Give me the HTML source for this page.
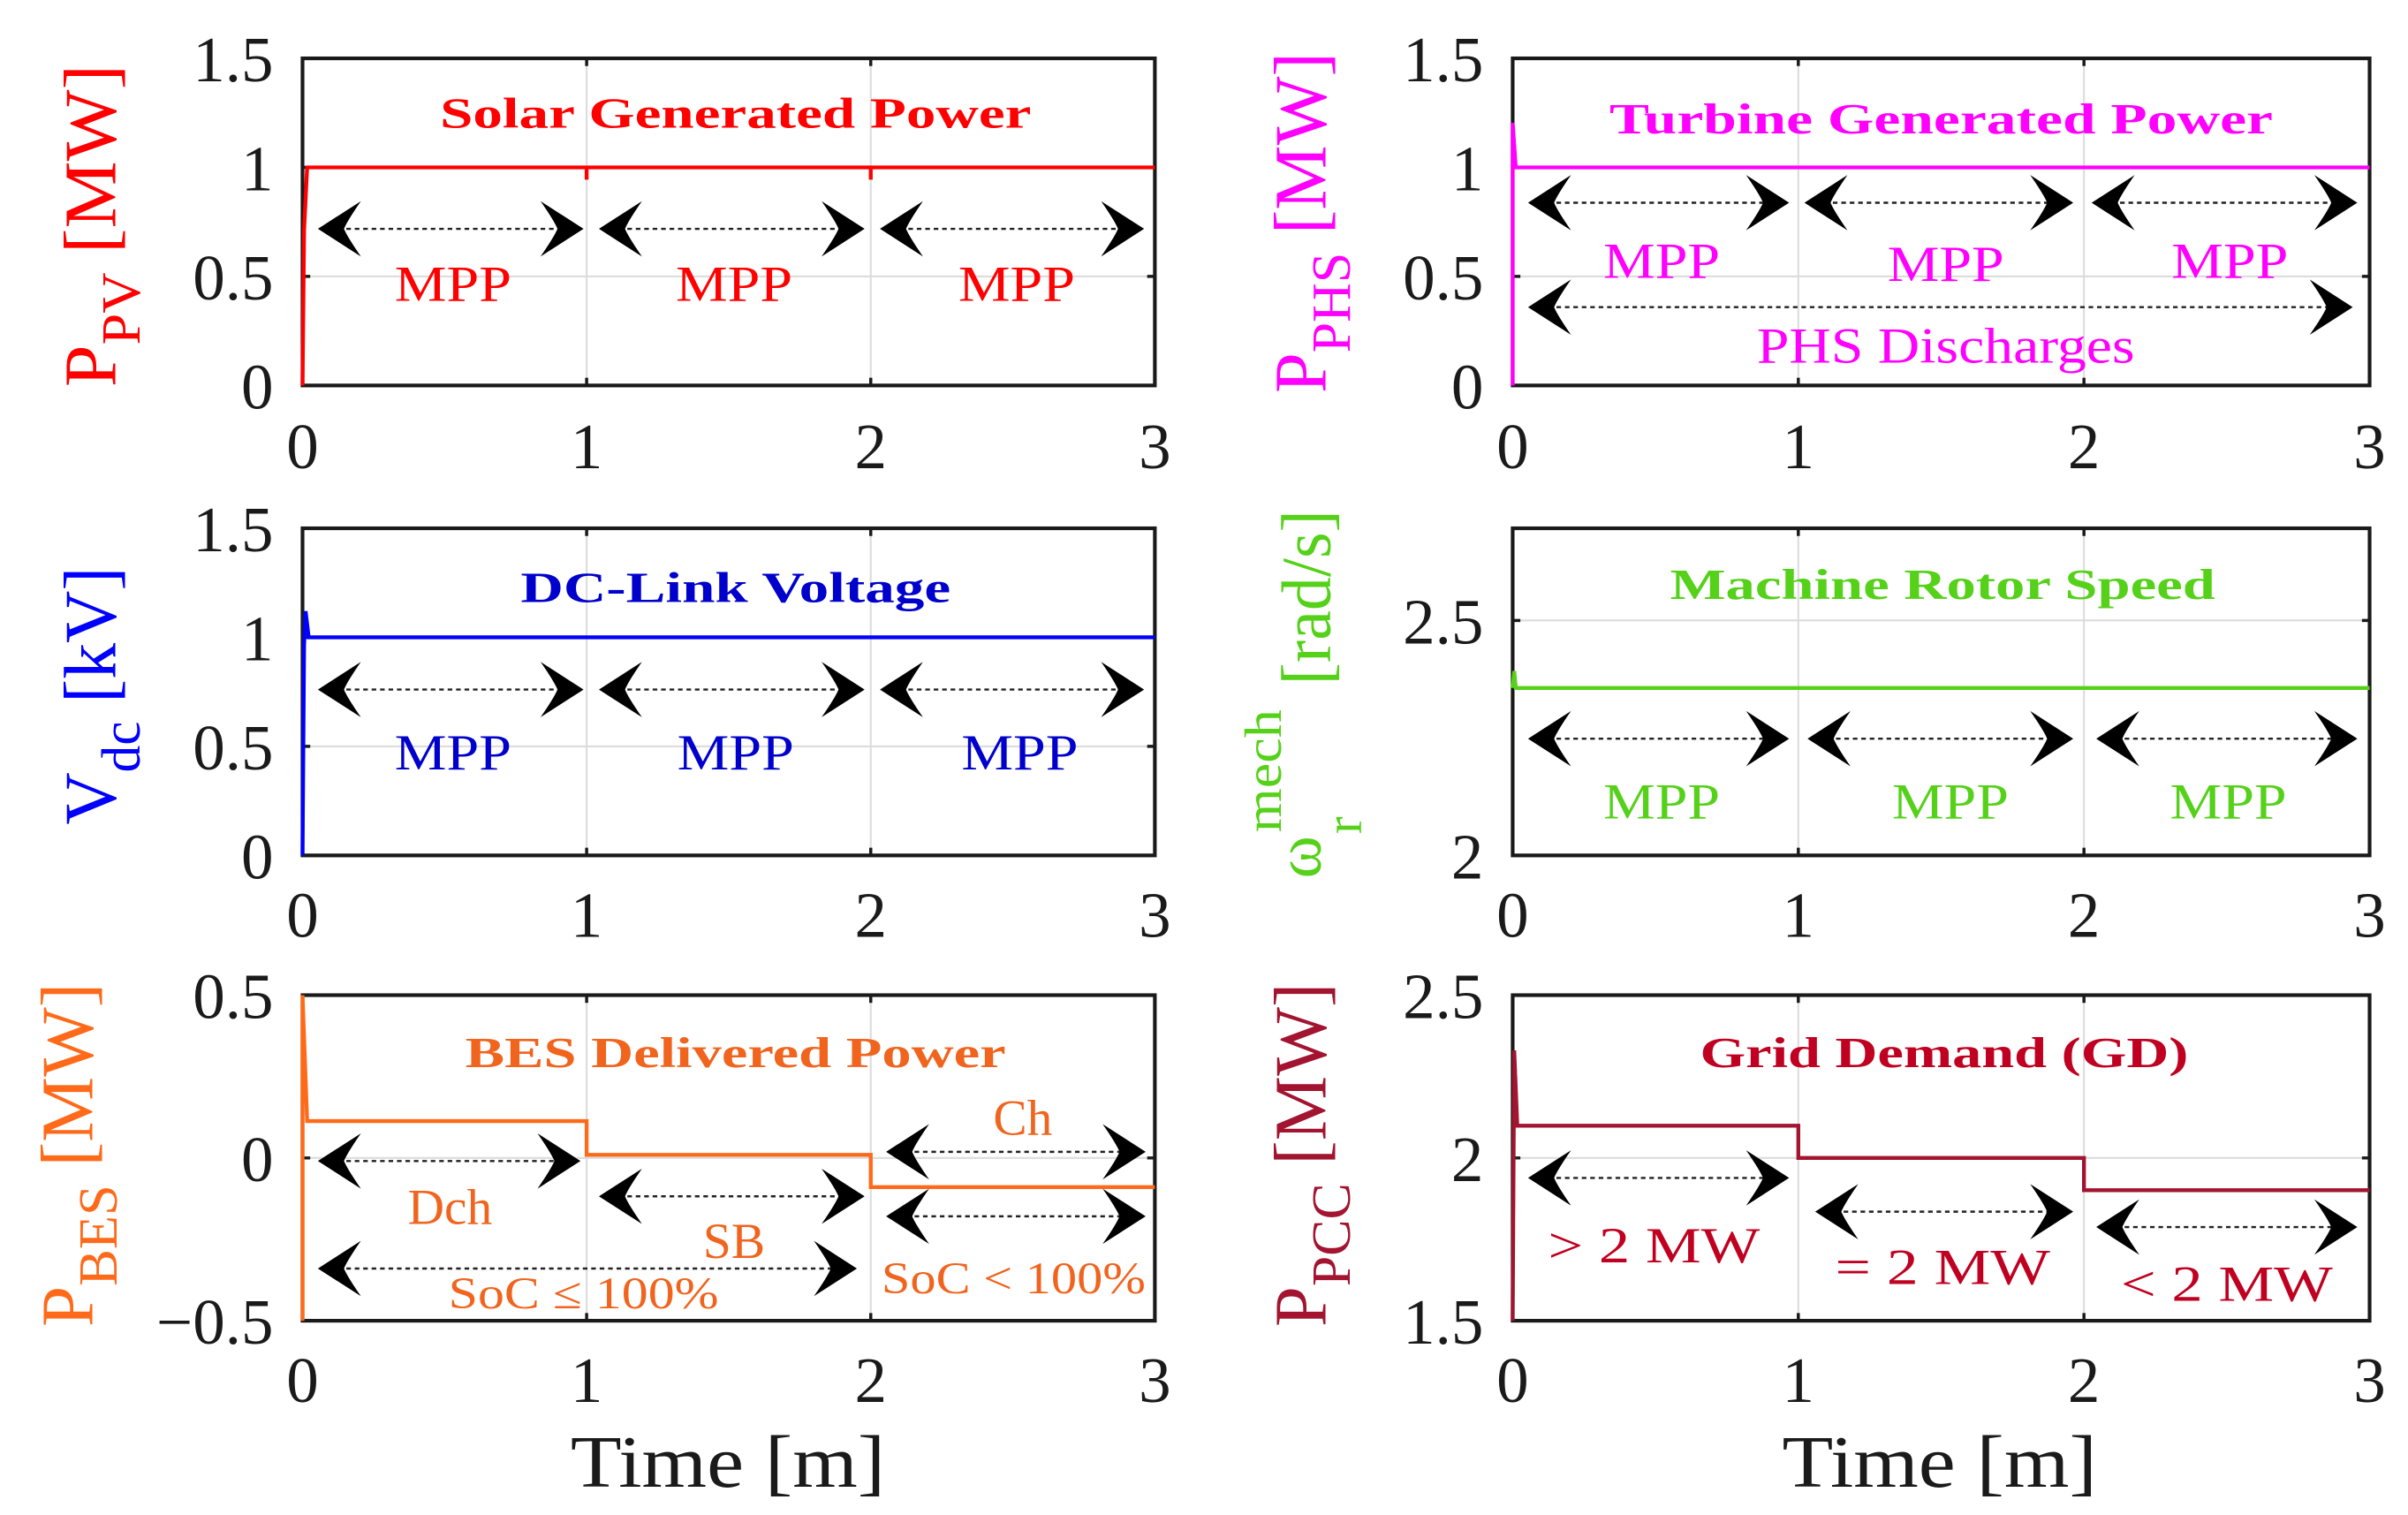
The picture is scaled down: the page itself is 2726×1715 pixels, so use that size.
<!DOCTYPE html>
<html><head><meta charset="utf-8"><style>
html,body{margin:0;padding:0;background:#fff;}
svg{display:block;}
text{font-family:"Liberation Serif","Times New Roman",serif;}
</style></head><body>
<svg width="2726" height="1715" viewBox="0 0 1568 986.5" preserveAspectRatio="none" xmlns="http://www.w3.org/2000/svg">
<defs>
<path id="ah" d="M0,0 L-28,-18 Q-19,-5 -17,0 Q-19,5 -28,18 Z" fill="#000"/>
<path id="al" d="M0,0 L28,-18 Q19,-5 17,0 Q19,5 28,18 Z" fill="#000"/>
</defs>
<rect width="1568" height="987" fill="#fff"/>

<g stroke="#dcdcdc" stroke-width="1.2">
 <line x1="382" y1="38" x2="382" y2="251"/><line x1="567" y1="38" x2="567" y2="251"/>
 <line x1="197" y1="109" x2="752" y2="109"/><line x1="197" y1="180" x2="752" y2="180"/>
 <line x1="1171" y1="38" x2="1171" y2="251"/><line x1="1357" y1="38" x2="1357" y2="251"/>
 <line x1="985" y1="109" x2="1543" y2="109"/><line x1="985" y1="180" x2="1543" y2="180"/>
 <line x1="382" y1="344" x2="382" y2="557"/><line x1="567" y1="344" x2="567" y2="557"/>
 <line x1="197" y1="415" x2="752" y2="415"/><line x1="197" y1="486" x2="752" y2="486"/>
 <line x1="1171" y1="344" x2="1171" y2="557"/><line x1="1357" y1="344" x2="1357" y2="557"/>
 <line x1="985" y1="404" x2="1543" y2="404"/>
 <line x1="382" y1="648" x2="382" y2="860"/><line x1="567" y1="648" x2="567" y2="860"/>
 <line x1="197" y1="754" x2="752" y2="754"/>
 <line x1="1171" y1="648" x2="1171" y2="860"/><line x1="1357" y1="648" x2="1357" y2="860"/>
 <line x1="985" y1="754" x2="1543" y2="754"/>
</g>
<g fill="none" stroke="#1a1a1a" stroke-width="2.4">
 <rect x="197" y="38" width="555" height="213"/>
 <rect x="985" y="38" width="558" height="213"/>
 <rect x="197" y="344" width="555" height="213"/>
 <rect x="985" y="344" width="558" height="213"/>
 <rect x="197" y="648" width="555" height="212"/>
 <rect x="985" y="648" width="558" height="212"/>
</g>
<g stroke="#1a1a1a" stroke-width="2">
 <path d="M382,38v5M567,38v5M382,251v-5M567,251v-5M197,180h5M752,180h-5M197,109h5M752,109h-5"/>
 <path d="M1171,38v5M1357,38v5M1171,251v-5M1357,251v-5M985,180h5M1543,180h-5M985,109h5M1543,109h-5"/>
 <path d="M382,344v5M567,344v5M382,557v-5M567,557v-5M197,486h5M752,486h-5M197,415h5M752,415h-5"/>
 <path d="M1171,344v5M1357,344v5M1171,557v-5M1357,557v-5M985,404h5M1543,404h-5"/>
 <path d="M382,648v5M567,648v5M382,860v-5M567,860v-5M197,754h5M752,754h-5"/>
 <path d="M1171,648v5M1357,648v5M1171,860v-5M1357,860v-5M985,754h5M1543,754h-5"/>
</g>

<g font-size="42" fill="#1a1a1a" text-anchor="end">
 <text x="178" y="53">1.5</text><text x="178" y="124">1</text><text x="178" y="195">0.5</text><text x="178" y="266">0</text>
 <text x="966" y="53">1.5</text><text x="966" y="124">1</text><text x="966" y="195">0.5</text><text x="966" y="266">0</text>
 <text x="178" y="359">1.5</text><text x="178" y="430">1</text><text x="178" y="501">0.5</text><text x="178" y="572">0</text>
 <text x="966" y="419">2.5</text><text x="966" y="572">2</text>
 <text x="178" y="663">0.5</text><text x="178" y="769">0</text><text x="178" y="875">−0.5</text>
 <text x="966" y="663">2.5</text><text x="966" y="769">2</text><text x="966" y="875">1.5</text>
</g>
<g font-size="42" fill="#1a1a1a" text-anchor="middle">
 <text x="197" y="305">0</text><text x="382" y="305">1</text><text x="567" y="305">2</text><text x="752" y="305">3</text>
 <text x="985" y="305">0</text><text x="1171" y="305">1</text><text x="1357" y="305">2</text><text x="1543" y="305">3</text>
 <text x="197" y="610">0</text><text x="382" y="610">1</text><text x="567" y="610">2</text><text x="752" y="610">3</text>
 <text x="985" y="610">0</text><text x="1171" y="610">1</text><text x="1357" y="610">2</text><text x="1543" y="610">3</text>
 <text x="197" y="913">0</text><text x="382" y="913">1</text><text x="567" y="913">2</text><text x="752" y="913">3</text>
 <text x="985" y="913">0</text><text x="1171" y="913">1</text><text x="1357" y="913">2</text><text x="1543" y="913">3</text>
 <text x="474" y="968" font-size="48" textLength="205" lengthAdjust="spacingAndGlyphs">Time [m]</text>
 <text x="1263" y="968" font-size="48" textLength="205" lengthAdjust="spacingAndGlyphs">Time [m]</text>
</g>

<g fill="none" stroke-width="2.5">
 <polyline stroke="#ff0000" points="197,251 198,150 200,109 752,109"/>
 <line stroke="#ff0000" x1="382" y1="109" x2="382" y2="117"/><line stroke="#ff0000" x1="567" y1="109" x2="567" y2="117"/>
 <polyline stroke="#ff00ff" points="985,251 985,80 987,109 1543,109"/>
 <polyline stroke="#0000ff" points="197,557 198,420 199,398 201,415 752,415"/>
 <polyline stroke="#55d11a" points="985,448 986,437 987,448 1543,448"/>
 <polyline stroke="#ff6a1a" points="197,860 197,648 200,730 382,730 382,752 567,752 567,773 752,773"/>
 <polyline stroke="#a2142f" points="985,860 986,684 988,733 1171,733 1171,754 1357,754 1357,775 1543,775"/>
</g>

<g font-weight="bold" font-size="28" text-anchor="middle">
 <text x="479" y="83" fill="#ff0000" textLength="385" lengthAdjust="spacingAndGlyphs">Solar Generated Power</text>
 <text x="1264" y="87" fill="#ff00ff" textLength="432" lengthAdjust="spacingAndGlyphs">Turbine Generated Power</text>
 <text x="479" y="392" fill="#0000cc" textLength="280" lengthAdjust="spacingAndGlyphs">DC-Link Voltage</text>
 <text x="1265" y="390" fill="#55d11a" textLength="355" lengthAdjust="spacingAndGlyphs">Machine Rotor Speed</text>
 <text x="479" y="695" fill="#f0641e" textLength="352" lengthAdjust="spacingAndGlyphs">BES Delivered Power</text>
 <text x="1266" y="695" fill="#c00020" textLength="318" lengthAdjust="spacingAndGlyphs">Grid Demand (GD)</text>
</g>

<g stroke="#222" stroke-width="1.4" stroke-dasharray="3,2.5">
 <line x1="220" y1="149" x2="368" y2="149"/><line x1="403" y1="149" x2="551" y2="149"/><line x1="586" y1="149" x2="733" y2="149"/>
 <line x1="1008" y1="132" x2="1153" y2="132"/><line x1="1188" y1="132" x2="1338" y2="132"/><line x1="1375" y1="132" x2="1523" y2="132"/>
 <line x1="1008" y1="200" x2="1520" y2="200"/>
 <line x1="220" y1="449" x2="368" y2="449"/><line x1="403" y1="449" x2="551" y2="449"/><line x1="586" y1="449" x2="733" y2="449"/>
 <line x1="1008" y1="481" x2="1153" y2="481"/><line x1="1190" y1="481" x2="1338" y2="481"/><line x1="1378" y1="481" x2="1523" y2="481"/>
 <line x1="220" y1="756" x2="366" y2="756"/><line x1="403" y1="779" x2="551" y2="779"/><line x1="220" y1="826" x2="546" y2="826"/>
 <line x1="590" y1="750" x2="734" y2="750"/><line x1="590" y1="792" x2="734" y2="792"/>
 <line x1="1008" y1="767" x2="1153" y2="767"/><line x1="1195" y1="789" x2="1338" y2="789"/><line x1="1378" y1="799" x2="1523" y2="799"/>
</g>
<g>
 <use href="#al" x="207" y="149"/><use href="#ah" x="380" y="149"/><use href="#al" x="390" y="149"/><use href="#ah" x="563" y="149"/><use href="#al" x="573" y="149"/><use href="#ah" x="745" y="149"/>
 <use href="#al" x="995" y="132"/><use href="#ah" x="1165" y="132"/><use href="#al" x="1175" y="132"/><use href="#ah" x="1350" y="132"/><use href="#al" x="1362" y="132"/><use href="#ah" x="1535" y="132"/>
 <use href="#al" x="995" y="200"/><use href="#ah" x="1532" y="200"/>
 <use href="#al" x="207" y="449"/><use href="#ah" x="380" y="449"/><use href="#al" x="390" y="449"/><use href="#ah" x="563" y="449"/><use href="#al" x="573" y="449"/><use href="#ah" x="745" y="449"/>
 <use href="#al" x="995" y="481"/><use href="#ah" x="1165" y="481"/><use href="#al" x="1177" y="481"/><use href="#ah" x="1350" y="481"/><use href="#al" x="1365" y="481"/><use href="#ah" x="1535" y="481"/>
 <use href="#al" x="207" y="756"/><use href="#ah" x="378" y="756"/>
 <use href="#al" x="390" y="779"/><use href="#ah" x="563" y="779"/>
 <use href="#al" x="207" y="826"/><use href="#ah" x="558" y="826"/>
 <use href="#al" x="577" y="750"/><use href="#ah" x="746" y="750"/>
 <use href="#al" x="577" y="792"/><use href="#ah" x="746" y="792"/>
 <use href="#al" x="995" y="767"/><use href="#ah" x="1165" y="767"/>
 <use href="#al" x="1182" y="789"/><use href="#ah" x="1350" y="789"/>
 <use href="#al" x="1365" y="799"/><use href="#ah" x="1535" y="799"/>
</g>

<g font-size="33" text-anchor="middle">
 <g fill="#ff0000"><text x="295" y="196" textLength="76" lengthAdjust="spacingAndGlyphs">MPP</text><text x="478" y="196" textLength="76" lengthAdjust="spacingAndGlyphs">MPP</text><text x="662" y="196" textLength="76" lengthAdjust="spacingAndGlyphs">MPP</text></g>
 <g fill="#ff00ff"><text x="1082" y="181" textLength="76" lengthAdjust="spacingAndGlyphs">MPP</text><text x="1267" y="183" textLength="76" lengthAdjust="spacingAndGlyphs">MPP</text><text x="1452" y="181" textLength="76" lengthAdjust="spacingAndGlyphs">MPP</text>
  <text x="1267" y="236" textLength="246" lengthAdjust="spacingAndGlyphs">PHS Discharges</text></g>
 <g fill="#0000cc"><text x="295" y="501" textLength="76" lengthAdjust="spacingAndGlyphs">MPP</text><text x="479" y="501" textLength="76" lengthAdjust="spacingAndGlyphs">MPP</text><text x="664" y="501" textLength="76" lengthAdjust="spacingAndGlyphs">MPP</text></g>
 <g fill="#55d11a"><text x="1082" y="533" textLength="76" lengthAdjust="spacingAndGlyphs">MPP</text><text x="1270" y="533" textLength="76" lengthAdjust="spacingAndGlyphs">MPP</text><text x="1451" y="533" textLength="76" lengthAdjust="spacingAndGlyphs">MPP</text></g>
 <g fill="#f0641e"><text x="293" y="797">Dch</text><text x="478" y="819">SB</text><text x="666" y="739">Ch</text>
  <text x="380" y="852" font-size="29" textLength="176" lengthAdjust="spacingAndGlyphs">SoC ≤ 100%</text>
  <text x="660" y="842" font-size="29" textLength="172" lengthAdjust="spacingAndGlyphs">SoC &lt; 100%</text></g>
 <g fill="#c00020"><text x="1077" y="822" textLength="138" lengthAdjust="spacingAndGlyphs">&gt; 2 MW</text>
  <text x="1265" y="836" textLength="140" lengthAdjust="spacingAndGlyphs">= 2 MW</text>
  <text x="1450" y="847" textLength="138" lengthAdjust="spacingAndGlyphs">&lt; 2 MW</text></g>
</g>

<g font-size="48">
 <text transform="translate(75,252) rotate(-90)" fill="#ff0000" textLength="210" lengthAdjust="spacingAndGlyphs">P<tspan font-size="36" dy="16">PV</tspan><tspan dy="-16"> [MW]</tspan></text>
 <text transform="translate(863,256) rotate(-90)" fill="#ff00ff" textLength="222" lengthAdjust="spacingAndGlyphs">P<tspan font-size="36" dy="16">PHS</tspan><tspan dy="-16"> [MW]</tspan></text>
 <text transform="translate(75,537) rotate(-90)" fill="#0000ff" textLength="168" lengthAdjust="spacingAndGlyphs">V<tspan font-size="36" dy="16">dc</tspan><tspan dy="-16"> [kV]</tspan></text>
 <text transform="translate(60,864) rotate(-90)" fill="#ff6a1a" textLength="224" lengthAdjust="spacingAndGlyphs">P<tspan font-size="36" dy="16">BES</tspan><tspan dy="-16"> [MW]</tspan></text>
 <text transform="translate(863,864) rotate(-90)" fill="#a2142f" textLength="224" lengthAdjust="spacingAndGlyphs">P<tspan font-size="36" dy="16">PCC</tspan><tspan dy="-16"> [MW]</tspan></text>
 <g fill="#55d11a">
  <text transform="translate(860,572) rotate(-90)" font-size="42">ω</text>
  <text transform="translate(834,542) rotate(-90)" font-size="34" textLength="80" lengthAdjust="spacingAndGlyphs">mech</text>
  <text transform="translate(886,543) rotate(-90)" font-size="34">r</text>
  <text transform="translate(866,446) rotate(-90)" font-size="46" textLength="114" lengthAdjust="spacingAndGlyphs">[rad/s]</text>
 </g>
</g>
</svg>
</body></html>
